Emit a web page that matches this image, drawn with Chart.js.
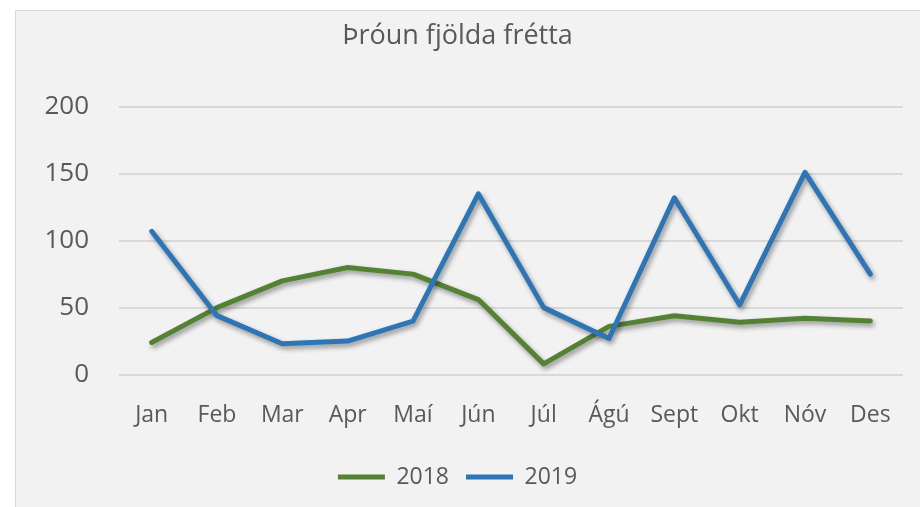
<!DOCTYPE html>
<html>
<head>
<meta charset="utf-8">
<script src="https://cdn.jsdelivr.net/npm/chart.js@4"></script>
<style>
    body { margin: 0; background: #ffffff; overflow: hidden; }
    #box {
        position: absolute; left: 15px; top: 10px;
        width: 904px; height: 496px;
        border: 1px solid #d9d9d9; background: #f2f2f2;
    }
</style>
</head>
<body>
<div id="box"><canvas id="newsChart"></canvas></div>
<script>
// Chart data
const months = ['Jan', 'Feb', 'Mar', 'Apr', 'Maí', 'Jún', 'Júl', 'Ágú', 'Sept', 'Okt', 'Nóv', 'Des'];
const news2018 = [24, 50, 70, 80, 75, 56, 8, 36, 44, 39, 42, 40];
const news2019 = [107, 44, 23, 25, 40, 135, 50, 27, 132, 52, 151, 75];
const yTicks = [0, 50, 100, 150, 200];

const textColor = '#595959';

// Soft drop shadow under the lines
const lineShadow = {
    id: 'lineShadow',
    beforeDatasetsDraw(chart) {
        const ctx = chart.ctx;
        ctx.save();
        ctx.shadowColor = 'rgba(0, 0, 0, 0.4)';
        ctx.shadowBlur = 5;
        ctx.shadowOffsetX = 2;
        ctx.shadowOffsetY = 3;
    },
    afterDatasetsDraw(chart) {
        chart.ctx.restore();
    }
};

const ctx = document.getElementById('newsChart').getContext('2d');
const newsChart = new Chart(ctx, {
    type: 'line',
    data: {
        labels: months,
        datasets: [{
            label: '2018',
            data: news2018,
            borderColor: '#548235',
            backgroundColor: '#548235',
            borderWidth: 5,
            borderCapStyle: 'round',
            borderJoinStyle: 'round',
            pointRadius: 0,
            tension: 0,
            order: 1
        }, {
            label: '2019',
            data: news2019,
            borderColor: '#2e75b6',
            backgroundColor: '#2e75b6',
            borderWidth: 5,
            borderCapStyle: 'round',
            borderJoinStyle: 'round',
            pointRadius: 0,
            tension: 0,
            order: 0
        }]
    },
    options: {
        responsive: true,
        maintainAspectRatio: false,
        animation: false,
        layout: {
            padding: { left: -4, right: 17, top: 0, bottom: 8.5 }
        },
        plugins: {
            tooltip: { enabled: false },
            title: {
                display: true,
                text: 'Þróun fjölda frétta',
                color: textColor,
                font: { family: 'Open Sans', size: 27, weight: 'normal' },
                padding: { top: 9.3, bottom: 54 }
            },
            legend: {
                position: 'bottom',
                labels: {
                    color: textColor,
                    font: { family: 'Open Sans', size: 23 },
                    usePointStyle: true,
                    pointStyle: 'line',
                    pointStyleWidth: 47,
                    padding: 17,
                    sort: (a, b) => a.datasetIndex - b.datasetIndex
                }
            }
        },
        scales: {
            x: {
                offset: true,
                grid: { display: false, drawTicks: false, offset: true },
                border: { display: false },
                ticks: {
                    color: textColor,
                    font: { family: 'Open Sans', size: 23 },
                    padding: 27,
                    maxRotation: 0,
                    autoSkip: false
                },
                afterFit(scale) { scale.height = 73.9; }
            },
            y: {
                min: 0,
                max: 200,
                grid: { color: '#d9d9d9', lineWidth: 2, drawTicks: false },
                border: { display: false },
                ticks: {
                    color: textColor,
                    font: { family: 'Open Sans', size: 26 },
                    padding: 30,
                    stepSize: 50
                },
                afterBuildTicks(scale) {
                    scale.ticks = yTicks.map(v => ({ value: v }));
                },
                afterFit(scale) { scale.width = 107; }
            }
        }
    },
    plugins: [lineShadow]
});
</script>
</body>
</html>
